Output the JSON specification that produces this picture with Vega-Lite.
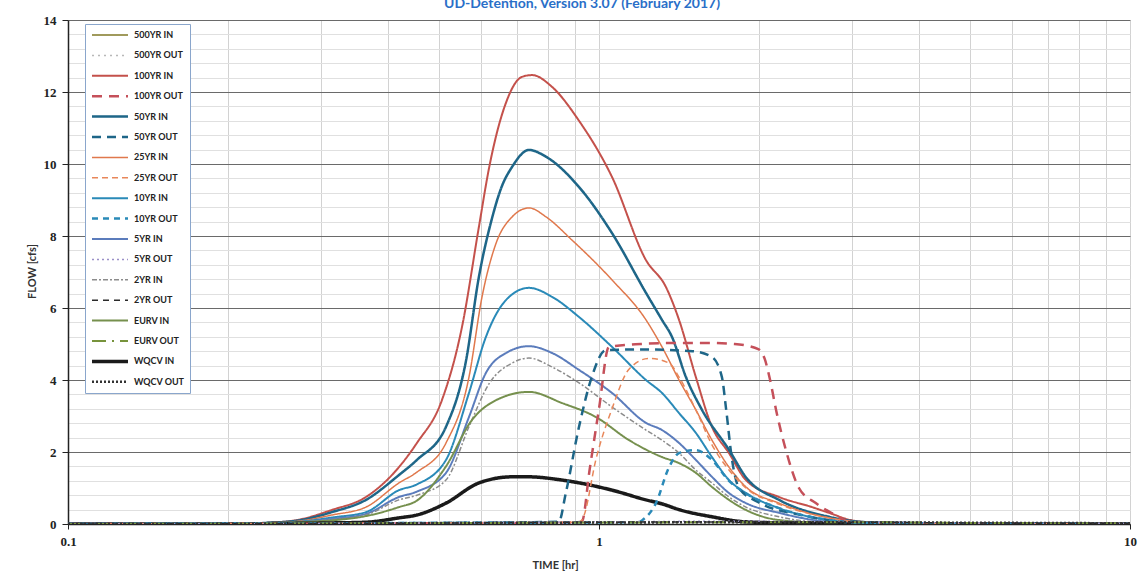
{
  "$schema": "https://vega.github.io/schema/vega-lite/v6.json",
  "width": 1062,
  "height": 504,
  "autosize": {"type": "none"},
  "padding": {"left": 68, "top": 20, "right": 15, "bottom": 51},
  "background": "white",
  "title": {"text": "UD-Detention, Version 3.07 (February 2017)", "font": "Lato", "fontSize": 14, "fontWeight": "bold", "color": "#2a6fc8", "offset": 3, "dx": -17},
  "config": {"view": {"stroke": null}},
  "data": {"values": [
    {"t":0.1,"q":0,"s":"100YR IN"},{"t":0.2,"q":0,"s":"100YR IN"},{"t":0.236,"q":0.03,"s":"100YR IN"},{"t":0.272,"q":0.12,"s":"100YR IN"},{"t":0.314,"q":0.39,"s":"100YR IN"},{"t":0.364,"q":0.75,"s":"100YR IN"},{"t":0.42,"q":1.58,"s":"100YR IN"},{"t":0.454,"q":2.25,"s":"100YR IN"},{"t":0.506,"q":3.44,"s":"100YR IN"},{"t":0.552,"q":5.47,"s":"100YR IN"},{"t":0.594,"q":8.25,"s":"100YR IN"},{"t":0.621,"q":9.9,"s":"100YR IN"},{"t":0.668,"q":11.7,"s":"100YR IN"},{"t":0.716,"q":12.42,"s":"100YR IN"},{"t":0.748,"q":12.47,"s":"100YR IN"},{"t":0.816,"q":12.14,"s":"100YR IN"},{"t":0.917,"q":11.2,"s":"100YR IN"},{"t":1.058,"q":9.64,"s":"100YR IN"},{"t":1.226,"q":7.33,"s":"100YR IN"},{"t":1.337,"q":6.58,"s":"100YR IN"},{"t":1.415,"q":5.67,"s":"100YR IN"},{"t":1.522,"q":4.08,"s":"100YR IN"},{"t":1.632,"q":2.7,"s":"100YR IN"},{"t":1.757,"q":1.97,"s":"100YR IN"},{"t":1.891,"q":1.22,"s":"100YR IN"},{"t":2.183,"q":0.75,"s":"100YR IN"},{"t":2.518,"q":0.47,"s":"100YR IN"},{"t":2.711,"q":0.31,"s":"100YR IN"},{"t":3.0,"q":0.1,"s":"100YR IN"},{"t":3.4,"q":0.03,"s":"100YR IN"},{"t":5,"q":0.01,"s":"100YR IN"},{"t":10,"q":0,"s":"100YR IN"},

    {"t":0.1,"q":0,"s":"50YR IN"},{"t":0.2,"q":0,"s":"50YR IN"},{"t":0.236,"q":0.03,"s":"50YR IN"},{"t":0.272,"q":0.1,"s":"50YR IN"},{"t":0.314,"q":0.33,"s":"50YR IN"},{"t":0.364,"q":0.67,"s":"50YR IN"},{"t":0.42,"q":1.36,"s":"50YR IN"},{"t":0.454,"q":1.78,"s":"50YR IN"},{"t":0.515,"q":2.7,"s":"50YR IN"},{"t":0.562,"q":4.55,"s":"50YR IN"},{"t":0.594,"q":6.86,"s":"50YR IN"},{"t":0.629,"q":8.5,"s":"50YR IN"},{"t":0.655,"q":9.35,"s":"50YR IN"},{"t":0.686,"q":9.92,"s":"50YR IN"},{"t":0.738,"q":10.39,"s":"50YR IN"},{"t":0.795,"q":10.2,"s":"50YR IN"},{"t":0.917,"q":9.36,"s":"50YR IN"},{"t":1.058,"q":8.08,"s":"50YR IN"},{"t":1.226,"q":6.42,"s":"50YR IN"},{"t":1.314,"q":5.67,"s":"50YR IN"},{"t":1.372,"q":5.2,"s":"50YR IN"},{"t":1.458,"q":4.08,"s":"50YR IN"},{"t":1.563,"q":3.17,"s":"50YR IN"},{"t":1.757,"q":2.06,"s":"50YR IN"},{"t":1.891,"q":1.3,"s":"50YR IN"},{"t":2.183,"q":0.67,"s":"50YR IN"},{"t":2.711,"q":0.2,"s":"50YR IN"},{"t":3.2,"q":0.05,"s":"50YR IN"},{"t":5,"q":0.01,"s":"50YR IN"},{"t":10,"q":0,"s":"50YR IN"},

    {"t":0.1,"q":0,"s":"25YR IN"},{"t":0.2,"q":0,"s":"25YR IN"},{"t":0.236,"q":0.03,"s":"25YR IN"},{"t":0.272,"q":0.08,"s":"25YR IN"},{"t":0.314,"q":0.25,"s":"25YR IN"},{"t":0.364,"q":0.47,"s":"25YR IN"},{"t":0.42,"q":1.14,"s":"25YR IN"},{"t":0.454,"q":1.44,"s":"25YR IN"},{"t":0.515,"q":2.25,"s":"25YR IN"},{"t":0.569,"q":4.08,"s":"25YR IN"},{"t":0.602,"q":6.3,"s":"25YR IN"},{"t":0.64,"q":7.8,"s":"25YR IN"},{"t":0.686,"q":8.53,"s":"25YR IN"},{"t":0.738,"q":8.78,"s":"25YR IN"},{"t":0.795,"q":8.53,"s":"25YR IN"},{"t":0.889,"q":7.89,"s":"25YR IN"},{"t":1.058,"q":6.78,"s":"25YR IN"},{"t":1.226,"q":5.67,"s":"25YR IN"},{"t":1.314,"q":4.92,"s":"25YR IN"},{"t":1.415,"q":4.0,"s":"25YR IN"},{"t":1.522,"q":3.17,"s":"25YR IN"},{"t":1.632,"q":2.33,"s":"25YR IN"},{"t":1.757,"q":1.58,"s":"25YR IN"},{"t":1.891,"q":1.03,"s":"25YR IN"},{"t":2.183,"q":0.58,"s":"25YR IN"},{"t":2.711,"q":0.17,"s":"25YR IN"},{"t":3.2,"q":0.04,"s":"25YR IN"},{"t":5,"q":0.01,"s":"25YR IN"},{"t":10,"q":0,"s":"25YR IN"},

    {"t":0.1,"q":0,"s":"10YR IN"},{"t":0.2,"q":0,"s":"10YR IN"},{"t":0.236,"q":0.02,"s":"10YR IN"},{"t":0.272,"q":0.06,"s":"10YR IN"},{"t":0.314,"q":0.18,"s":"10YR IN"},{"t":0.364,"q":0.33,"s":"10YR IN"},{"t":0.42,"q":0.94,"s":"10YR IN"},{"t":0.454,"q":1.1,"s":"10YR IN"},{"t":0.515,"q":1.78,"s":"10YR IN"},{"t":0.569,"q":3.64,"s":"10YR IN"},{"t":0.6125,"q":5.2,"s":"10YR IN"},{"t":0.668,"q":6.22,"s":"10YR IN"},{"t":0.738,"q":6.56,"s":"10YR IN"},{"t":0.816,"q":6.31,"s":"10YR IN"},{"t":0.917,"q":5.75,"s":"10YR IN"},{"t":1.058,"q":4.92,"s":"10YR IN"},{"t":1.226,"q":4.0,"s":"10YR IN"},{"t":1.314,"q":3.64,"s":"10YR IN"},{"t":1.415,"q":3.08,"s":"10YR IN"},{"t":1.522,"q":2.53,"s":"10YR IN"},{"t":1.632,"q":1.86,"s":"10YR IN"},{"t":1.757,"q":1.22,"s":"10YR IN"},{"t":1.891,"q":0.86,"s":"10YR IN"},{"t":2.183,"q":0.44,"s":"10YR IN"},{"t":2.711,"q":0.11,"s":"10YR IN"},{"t":3.2,"q":0.03,"s":"10YR IN"},{"t":5,"q":0.01,"s":"10YR IN"},{"t":10,"q":0,"s":"10YR IN"},

    {"t":0.1,"q":0,"s":"5YR IN"},{"t":0.2,"q":0,"s":"5YR IN"},{"t":0.236,"q":0.02,"s":"5YR IN"},{"t":0.272,"q":0.05,"s":"5YR IN"},{"t":0.314,"q":0.14,"s":"5YR IN"},{"t":0.364,"q":0.28,"s":"5YR IN"},{"t":0.42,"q":0.75,"s":"5YR IN"},{"t":0.454,"q":0.9,"s":"5YR IN"},{"t":0.515,"q":1.42,"s":"5YR IN"},{"t":0.569,"q":2.97,"s":"5YR IN"},{"t":0.6125,"q":4.2,"s":"5YR IN"},{"t":0.668,"q":4.75,"s":"5YR IN"},{"t":0.738,"q":4.94,"s":"5YR IN"},{"t":0.816,"q":4.75,"s":"5YR IN"},{"t":0.917,"q":4.28,"s":"5YR IN"},{"t":1.058,"q":3.64,"s":"5YR IN"},{"t":1.226,"q":2.81,"s":"5YR IN"},{"t":1.314,"q":2.61,"s":"5YR IN"},{"t":1.415,"q":2.25,"s":"5YR IN"},{"t":1.522,"q":1.78,"s":"5YR IN"},{"t":1.632,"q":1.31,"s":"5YR IN"},{"t":1.757,"q":0.86,"s":"5YR IN"},{"t":1.891,"q":0.58,"s":"5YR IN"},{"t":2.183,"q":0.31,"s":"5YR IN"},{"t":2.711,"q":0.06,"s":"5YR IN"},{"t":3.2,"q":0.02,"s":"5YR IN"},{"t":10,"q":0,"s":"5YR IN"},

    {"t":0.1,"q":0,"s":"2YR IN"},{"t":0.2,"q":0,"s":"2YR IN"},{"t":0.236,"q":0.02,"s":"2YR IN"},{"t":0.272,"q":0.05,"s":"2YR IN"},{"t":0.314,"q":0.12,"s":"2YR IN"},{"t":0.364,"q":0.25,"s":"2YR IN"},{"t":0.42,"q":0.67,"s":"2YR IN"},{"t":0.454,"q":0.8,"s":"2YR IN"},{"t":0.515,"q":1.22,"s":"2YR IN"},{"t":0.569,"q":2.7,"s":"2YR IN"},{"t":0.621,"q":3.9,"s":"2YR IN"},{"t":0.686,"q":4.47,"s":"2YR IN"},{"t":0.738,"q":4.61,"s":"2YR IN"},{"t":0.816,"q":4.36,"s":"2YR IN"},{"t":0.917,"q":3.92,"s":"2YR IN"},{"t":1.058,"q":3.25,"s":"2YR IN"},{"t":1.226,"q":2.61,"s":"2YR IN"},{"t":1.314,"q":2.33,"s":"2YR IN"},{"t":1.415,"q":1.97,"s":"2YR IN"},{"t":1.522,"q":1.5,"s":"2YR IN"},{"t":1.632,"q":1.14,"s":"2YR IN"},{"t":1.757,"q":0.75,"s":"2YR IN"},{"t":1.891,"q":0.47,"s":"2YR IN"},{"t":2.183,"q":0.2,"s":"2YR IN"},{"t":2.711,"q":0.04,"s":"2YR IN"},{"t":10,"q":0,"s":"2YR IN"},

    {"t":0.1,"q":0,"s":"EURV IN"},{"t":0.2,"q":0,"s":"EURV IN"},{"t":0.236,"q":0.02,"s":"EURV IN"},{"t":0.272,"q":0.05,"s":"EURV IN"},{"t":0.314,"q":0.1,"s":"EURV IN"},{"t":0.364,"q":0.22,"s":"EURV IN"},{"t":0.42,"q":0.47,"s":"EURV IN"},{"t":0.454,"q":0.65,"s":"EURV IN"},{"t":0.515,"q":1.6,"s":"EURV IN"},{"t":0.5765,"q":2.89,"s":"EURV IN"},{"t":0.64,"q":3.44,"s":"EURV IN"},{"t":0.738,"q":3.67,"s":"EURV IN"},{"t":0.852,"q":3.36,"s":"EURV IN"},{"t":0.987,"q":2.97,"s":"EURV IN"},{"t":1.139,"q":2.33,"s":"EURV IN"},{"t":1.314,"q":1.86,"s":"EURV IN"},{"t":1.415,"q":1.69,"s":"EURV IN"},{"t":1.522,"q":1.42,"s":"EURV IN"},{"t":1.632,"q":1.03,"s":"EURV IN"},{"t":1.757,"q":0.67,"s":"EURV IN"},{"t":1.891,"q":0.39,"s":"EURV IN"},{"t":2.183,"q":0.11,"s":"EURV IN"},{"t":2.711,"q":0.03,"s":"EURV IN"},{"t":10,"q":0,"s":"EURV IN"},

    {"t":0.1,"q":0,"s":"WQCV IN"},{"t":0.2,"q":0,"s":"WQCV IN"},{"t":0.236,"q":0.01,"s":"WQCV IN"},{"t":0.314,"q":0.03,"s":"WQCV IN"},{"t":0.364,"q":0.05,"s":"WQCV IN"},{"t":0.42,"q":0.17,"s":"WQCV IN"},{"t":0.454,"q":0.25,"s":"WQCV IN"},{"t":0.515,"q":0.58,"s":"WQCV IN"},{"t":0.594,"q":1.14,"s":"WQCV IN"},{"t":0.686,"q":1.31,"s":"WQCV IN"},{"t":0.738,"q":1.31,"s":"WQCV IN"},{"t":0.852,"q":1.22,"s":"WQCV IN"},{"t":1.058,"q":0.94,"s":"WQCV IN"},{"t":1.226,"q":0.67,"s":"WQCV IN"},{"t":1.314,"q":0.56,"s":"WQCV IN"},{"t":1.415,"q":0.4,"s":"WQCV IN"},{"t":1.632,"q":0.2,"s":"WQCV IN"},{"t":1.891,"q":0.06,"s":"WQCV IN"},{"t":2.5,"q":0.02,"s":"WQCV IN"},{"t":10,"q":0,"s":"WQCV IN"},

    {"t":0.1,"q":0,"s":"100YR OUT"},{"t":0.5,"q":0.02,"s":"100YR OUT"},{"t":0.9,"q":0.04,"s":"100YR OUT"},{"t":0.929,"q":0.08,"s":"100YR OUT"},{"t":0.96,"q":1.5,"s":"100YR OUT"},{"t":1.0,"q":3.2,"s":"100YR OUT"},{"t":1.044,"q":4.92,"s":"100YR OUT"},{"t":1.2,"q":5.0,"s":"100YR OUT"},{"t":1.4,"q":5.03,"s":"100YR OUT"},{"t":1.6,"q":5.03,"s":"100YR OUT"},{"t":1.8,"q":5.0,"s":"100YR OUT"},{"t":2.0,"q":4.85,"s":"100YR OUT"},{"t":2.05,"q":4.6,"s":"100YR OUT"},{"t":2.1,"q":4.0,"s":"100YR OUT"},{"t":2.155,"q":3.17,"s":"100YR OUT"},{"t":2.248,"q":2.06,"s":"100YR OUT"},{"t":2.38,"q":1.0,"s":"100YR OUT"},{"t":2.56,"q":0.58,"s":"100YR OUT"},{"t":2.745,"q":0.3,"s":"100YR OUT"},{"t":2.96,"q":0.06,"s":"100YR OUT"},{"t":3.3,"q":0.01,"s":"100YR OUT"},{"t":10,"q":0,"s":"100YR OUT"},

    {"t":0.1,"q":0,"s":"50YR OUT"},{"t":0.5,"q":0.03,"s":"50YR OUT"},{"t":0.84,"q":0.06,"s":"50YR OUT"},{"t":0.866,"q":0.86,"s":"50YR OUT"},{"t":0.917,"q":2.7,"s":"50YR OUT"},{"t":0.969,"q":4.08,"s":"50YR OUT"},{"t":1.03,"q":4.83,"s":"50YR OUT"},{"t":1.2,"q":4.85,"s":"50YR OUT"},{"t":1.5,"q":4.8,"s":"50YR OUT"},{"t":1.632,"q":4.64,"s":"50YR OUT"},{"t":1.704,"q":4.08,"s":"50YR OUT"},{"t":1.735,"q":3.2,"s":"50YR OUT"},{"t":1.78,"q":1.8,"s":"50YR OUT"},{"t":1.835,"q":1.0,"s":"50YR OUT"},{"t":2.0,"q":0.6,"s":"50YR OUT"},{"t":2.4,"q":0.25,"s":"50YR OUT"},{"t":2.8,"q":0.08,"s":"50YR OUT"},{"t":3.3,"q":0.02,"s":"50YR OUT"},{"t":10,"q":0,"s":"50YR OUT"},

    {"t":0.1,"q":0,"s":"25YR OUT"},{"t":0.5,"q":0.03,"s":"25YR OUT"},{"t":0.92,"q":0.05,"s":"25YR OUT"},{"t":0.935,"q":0.2,"s":"25YR OUT"},{"t":0.987,"q":1.8,"s":"25YR OUT"},{"t":1.058,"q":3.2,"s":"25YR OUT"},{"t":1.139,"q":4.3,"s":"25YR OUT"},{"t":1.242,"q":4.6,"s":"25YR OUT"},{"t":1.355,"q":4.47,"s":"25YR OUT"},{"t":1.415,"q":4.08,"s":"25YR OUT"},{"t":1.522,"q":3.17,"s":"25YR OUT"},{"t":1.632,"q":2.2,"s":"25YR OUT"},{"t":1.757,"q":1.5,"s":"25YR OUT"},{"t":1.891,"q":1.0,"s":"25YR OUT"},{"t":2.183,"q":0.55,"s":"25YR OUT"},{"t":2.711,"q":0.17,"s":"25YR OUT"},{"t":3.2,"q":0.04,"s":"25YR OUT"},{"t":10,"q":0,"s":"25YR OUT"},

    {"t":0.1,"q":0,"s":"10YR OUT"},{"t":0.5,"q":0.03,"s":"10YR OUT"},{"t":1.19,"q":0.05,"s":"10YR OUT"},{"t":1.205,"q":0.1,"s":"10YR OUT"},{"t":1.28,"q":0.58,"s":"10YR OUT"},{"t":1.355,"q":1.58,"s":"10YR OUT"},{"t":1.415,"q":1.97,"s":"10YR OUT"},{"t":1.522,"q":2.05,"s":"10YR OUT"},{"t":1.632,"q":1.78,"s":"10YR OUT"},{"t":1.757,"q":1.2,"s":"10YR OUT"},{"t":1.891,"q":0.85,"s":"10YR OUT"},{"t":2.183,"q":0.44,"s":"10YR OUT"},{"t":2.711,"q":0.11,"s":"10YR OUT"},{"t":3.2,"q":0.03,"s":"10YR OUT"},{"t":10,"q":0,"s":"10YR OUT"},

    {"t":0.1,"q":0,"s":"5YR OUT"},{"t":0.4,"q":0.02,"s":"5YR OUT"},{"t":1.0,"q":0.06,"s":"5YR OUT"},{"t":2.0,"q":0.08,"s":"5YR OUT"},{"t":3.0,"q":0.06,"s":"5YR OUT"},{"t":5,"q":0.03,"s":"5YR OUT"},{"t":10,"q":0.01,"s":"5YR OUT"},
    {"t":0.1,"q":0,"s":"2YR OUT"},{"t":0.4,"q":0.02,"s":"2YR OUT"},{"t":1.0,"q":0.05,"s":"2YR OUT"},{"t":2.0,"q":0.06,"s":"2YR OUT"},{"t":3.0,"q":0.05,"s":"2YR OUT"},{"t":5,"q":0.03,"s":"2YR OUT"},{"t":10,"q":0.01,"s":"2YR OUT"},
    {"t":0.1,"q":0,"s":"EURV OUT"},{"t":0.4,"q":0.02,"s":"EURV OUT"},{"t":1.0,"q":0.04,"s":"EURV OUT"},{"t":2.0,"q":0.05,"s":"EURV OUT"},{"t":3.0,"q":0.05,"s":"EURV OUT"},{"t":5,"q":0.03,"s":"EURV OUT"},{"t":10,"q":0.02,"s":"EURV OUT"},
    {"t":0.1,"q":0,"s":"WQCV OUT"},{"t":0.3,"q":0.01,"s":"WQCV OUT"},{"t":0.6,"q":0.03,"s":"WQCV OUT"},{"t":1.0,"q":0.04,"s":"WQCV OUT"},{"t":2.0,"q":0.05,"s":"WQCV OUT"},{"t":4,"q":0.04,"s":"WQCV OUT"},{"t":10,"q":0.02,"s":"WQCV OUT"}
  ]},
  "mark": {"type": "line", "interpolate": "monotone", "clip": true},
  "encoding": {
    "x": {"field": "t", "type": "quantitative",
      "scale": {"type": "log", "domain": [0.1, 10], "nice": false},
      "axis": {"title": "TIME [hr]", "titleFont": "Lato", "titleFontSize": 11, "titleFontWeight": "bold", "titleColor": "#333", "titleX": 487, "titleY": 41, "titleBaseline": "middle",
        "values": [0.1,0.2,0.3,0.4,0.5,0.6,0.7,0.8,0.9,1,2,3,4,5,6,7,8,9,10],
        "tickCount": 60,
        "labelExpr": "(datum.value == 0.1 || datum.value == 1 || datum.value == 10) ? format(datum.value, '~g') : ''",
        "labelFont": "Liberation Serif", "labelFontSize": 13, "labelFontWeight": "bold", "labelColor": "#222", "labelPadding": 6, "labelFlush": false, "labelOverlap": false,
        "tickSize": 5, "tickColor": "#222", "tickOpacity": {"condition": {"test": "datum.value == 0.1 || datum.value == 1 || datum.value == 10", "value": 1}, "value": 0},
        "domainColor": "#222", "domainWidth": 1.5,
        "grid": true, "gridColor": "#d2d2d2", "gridWidth": 1}},
    "y": {"field": "q", "type": "quantitative",
      "scale": {"domain": [0, 14], "nice": false, "zero": true},
      "axis": {"title": "FLOW [cfs]", "titleFont": "Lato", "titleFontSize": 11, "titleFontWeight": "bold", "titleColor": "#333", "titleX": -36, "titleY": 251, "titleAngle": -90, "titleAlign": "center", "titleBaseline": "middle",
        "values": [0,0.4,0.8,1.2,1.6,2,2.4,2.8,3.2,3.6,4,4.4,4.8,5.2,5.6,6,6.4,6.8,7.2,7.6,8,8.4,8.8,9.2,9.6,10,10.4,10.8,11.2,11.6,12,12.4,12.8,13.2,13.6,14],
        "tickCount": 60,
        "labelExpr": "datum.value % 2 == 0 ? format(datum.value, 'd') : ''",
        "labelFont": "Liberation Serif", "labelFontSize": 13, "labelFontWeight": "bold", "labelColor": "#222", "labelPadding": 6, "labelFlush": false, "labelOverlap": false,
        "tickSize": 6, "tickColor": "#222", "tickOpacity": {"condition": {"test": "datum.value % 2 == 0", "value": 1}, "value": 0},
        "domainColor": "#222", "domainWidth": 1.5,
        "grid": true, "gridColor": {"condition": {"test": "datum.value % 2 == 0", "value": "#6a6a6a"}, "value": "#e0e0e0"}, "gridWidth": 1}},
    "color": {"field": "s", "type": "nominal",
      "scale": {"domain": ["500YR IN","500YR OUT","100YR IN","100YR OUT","50YR IN","50YR OUT","25YR IN","25YR OUT","10YR IN","10YR OUT","5YR IN","5YR OUT","2YR IN","2YR OUT","EURV IN","EURV OUT","WQCV IN","WQCV OUT"],
        "range": ["#a09a5c","#b8b8b8","#c4514b","#c5505a","#1e6688","#1e6688","#e0784c","#e8875a","#2a8ab8","#2a8ab8","#5b7cbc","#9a90c8","#8c8c8c","#2a2a2a","#76904e","#77933c","#1a1a1a","#333333"]},
      "legend": {"title": null, "orient": "none", "legendX": 17, "legendY": 4, "direction": "vertical", "symbolType": "stroke", "symbolSize": 1296, "clipHeight": 12, "labelFont": "Lato", "labelFontSize": 9, "labelFontWeight": "bold", "labelColor": "#222", "rowPadding": 8.4, "padding": 5, "strokeColor": "#8aa6cc", "fillColor": "white", "labelOffset": 4, "labelLimit": 80}},
    "strokeDash": {"field": "s", "type": "nominal",
      "scale": {"domain": ["500YR IN","500YR OUT","100YR IN","100YR OUT","50YR IN","50YR OUT","25YR IN","25YR OUT","10YR IN","10YR OUT","5YR IN","5YR OUT","2YR IN","2YR OUT","EURV IN","EURV OUT","WQCV IN","WQCV OUT"],
        "range": [[1,0],[2,4],[1,0],[10,7],[1,0],[9,6],[1,0],[6,4],[1,0],[6,5],[1,0],[2,3],[5,2,2,2],[6,5],[1,0],[14,6,2,6],[1,0],[2,2]]},
      "legend": {"title": null, "orient": "none", "legendX": 17, "legendY": 4, "direction": "vertical", "symbolType": "stroke", "symbolSize": 1296, "clipHeight": 12, "labelFont": "Lato", "labelFontSize": 9, "labelFontWeight": "bold", "labelColor": "#222", "rowPadding": 8.4, "padding": 5, "strokeColor": "#8aa6cc", "fillColor": "white", "labelOffset": 4, "labelLimit": 80}},
    "strokeWidth": {"field": "s", "type": "nominal",
      "scale": {"type": "ordinal", "domain": ["500YR IN","500YR OUT","100YR IN","100YR OUT","50YR IN","50YR OUT","25YR IN","25YR OUT","10YR IN","10YR OUT","5YR IN","5YR OUT","2YR IN","2YR OUT","EURV IN","EURV OUT","WQCV IN","WQCV OUT"],
        "range": [2,1.5,2,2.5,2.5,2.5,1.5,1.5,2,2.5,2,1.5,1.5,1.5,2,2,3.5,2.5]},
      "legend": {"title": null, "orient": "none", "legendX": 17, "legendY": 4, "direction": "vertical", "symbolType": "stroke", "symbolSize": 1296, "clipHeight": 12, "labelFont": "Lato", "labelFontSize": 9, "labelFontWeight": "bold", "labelColor": "#222", "rowPadding": 8.4, "padding": 5, "strokeColor": "#8aa6cc", "fillColor": "white", "labelOffset": 4, "labelLimit": 80}}
  }
}
